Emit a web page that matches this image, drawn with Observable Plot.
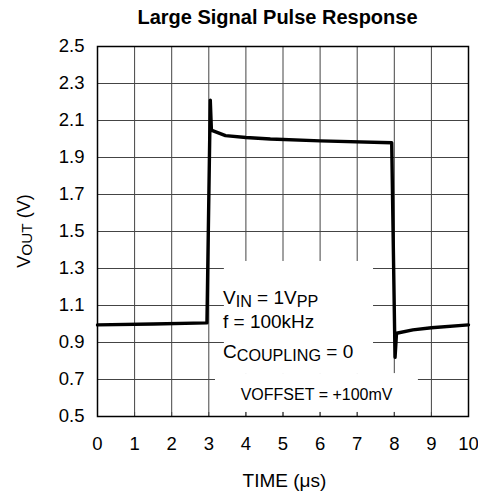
<!DOCTYPE html>
<html>
<head>
<meta charset="utf-8">
<script src="https://cdn.jsdelivr.net/npm/d3@7"></script>
<script src="https://cdn.jsdelivr.net/npm/@observablehq/plot@0.6"></script>
<style>
  body { margin: 0; background: #fff; }
  #wrap { width: 478px; height: 493px; font-family: "Liberation Sans", Arial, sans-serif; }
  #title { box-sizing: border-box; width: 478px; height: 36px; padding-top: 7px; padding-left: 77px;
           text-align: center; font-weight: bold; font-size: 20px; line-height: 20px; color: #000; }
  svg { display: block; }
</style>
</head>
<body>
<div id="wrap">
  <div id="title"></div>
  <div id="chart"></div>
</div>
<script>
// ---- chart text ----
const chartTitle = "Large Signal Pulse Response";
const xLabel = "TIME (\u03BCs)";
const yLabelMain = "V";
const yLabelSub = "OUT";
const yLabelRest = " (V)";

// ---- ticks ----
const xTicks = [0, 1, 2, 3, 4, 5, 6, 7, 8, 9, 10];
const xTickLabels = ["0", "1", "2", "3", "4", "5", "6", "7", "8", "9", "10"];
const yTicks = [0.5, 0.7, 0.9, 1.1, 1.3, 1.5, 1.7, 1.9, 2.1, 2.3, 2.5];
const yTickLabels = ["0.5", "0.7", "0.9", "1.1", "1.3", "1.5", "1.7", "1.9", "2.1", "2.3", "2.5"];

// ---- signal (time in µs, VOUT in V) ----
const timeUs = [0, 1.5, 2.95, 3.04, 3.07, 3.1, 3.45, 4.0, 4.66, 6.0, 7.93, 8.02, 8.06, 8.5, 9.0, 10.0];
const vout   = [0.995, 1.0, 1.006, 2.21, 2.05, 2.045, 2.018, 2.008, 2.0, 1.99, 1.98, 0.82, 0.95, 0.968, 0.98, 0.995];

// ---- annotation (white label boxes in data units) ----
const boxX1 = [3.42, 3.18];
const boxX2 = [7.44, 8.65];
const boxY1 = [0.732, 0.522];
const boxY2 = [1.338, 0.732];

const noteLines = [
  [["V", 0], ["IN", 1], [" = 1V", 0], ["PP", 1]],
  [["f = 100kHz", 0]],
  [["C", 0], ["COUPLING", 1], [" = 0", 0]]
];
const noteX = [3.396, 3.396, 3.396];
const noteY = [1.105, 0.976, 0.812];
const offsetNote = "VOFFSET = +100mV";
const offsetNoteX = 3.873;
const offsetNoteY = 0.586;

document.getElementById("title").textContent = chartTitle;

const W = 478, H = 457;
const mTop = 10, mBottom = 77, mLeft = 97, mRight = 10;
const frameH = H - mTop - mBottom;

const signal = timeUs.map((t, i) => ({t, v: vout[i]}));
const boxes = boxX1.map((x1, i) => ({x1, x2: boxX2[i], y1: boxY1[i], y2: boxY2[i]}));

const chart = Plot.plot({
  width: W,
  height: H,
  marginTop: mTop,
  marginBottom: mBottom,
  marginLeft: mLeft,
  marginRight: mRight,
  style: {fontFamily: "'Liberation Sans', Arial, sans-serif", fontSize: "18.5px", color: "#000", background: "#fff"},
  x: {domain: [0, 10]},
  y: {domain: [0.5, 2.5]},
  marks: [
    Plot.ruleX(xTicks, {x: d => d, stroke: "#444", strokeWidth: 1}),
    Plot.ruleY(yTicks, {y: d => d, stroke: "#444", strokeWidth: 1}),
    Plot.rect(boxes, {x1: "x1", x2: "x2", y1: "y1", y2: "y2", fill: "white"}),
    Plot.ruleX(xTicks, {x: d => d, insetTop: frameH - 4, stroke: "#444", strokeWidth: 1}),
    Plot.frame({stroke: "black", strokeWidth: 1.5}),
    Plot.line(signal, {x: "t", y: "v", stroke: "black", strokeWidth: 3.4}),
    Plot.axisX(xTicks, {anchor: "bottom", tickSize: 0, tickPadding: 20, label: null,
      tickFormat: d => xTickLabels[xTicks.indexOf(d)]}),
    Plot.axisY(yTicks, {anchor: "left", tickSize: 0, tickPadding: 13, label: null,
      tickFormat: d => yTickLabels[yTicks.indexOf(d)]})
  ]
});
document.getElementById("chart").appendChild(chart);

const xs = chart.scale("x"), ys = chart.scale("y");
const sx = d3.scaleLinear(xs.domain, xs.range);
const sy = d3.scaleLinear(ys.domain, ys.range);
const svg = d3.select(chart);
const ff = "'Liberation Sans', Arial, sans-serif";

// annotation lines with subscripts
noteLines.forEach((parts, i) => {
  const t = svg.append("text")
    .attr("x", sx(noteX[i])).attr("y", sy(noteY[i]))
    .attr("text-anchor", "start")
    .attr("font-family", ff).attr("font-size", 19).attr("fill", "#000");
  let shifted = false;
  parts.forEach(([s, sub]) => {
    const ts = t.append("tspan").text(s);
    if (sub && !shifted) { ts.attr("dy", 2.5).attr("font-size", "0.85em"); shifted = true; }
    else if (!sub && shifted) { ts.attr("dy", -2.5); shifted = false; }
    else if (sub) ts.attr("font-size", "0.85em");
  });
});
svg.append("text")
  .attr("x", sx(offsetNoteX)).attr("y", sy(offsetNoteY))
  .attr("text-anchor", "start")
  .attr("font-family", ff).attr("font-size", 16).attr("fill", "#000")
  .text(offsetNote);

// x axis label
const plotCx = (xs.range[0] + xs.range[1]) / 2;
svg.append("text")
  .attr("x", plotCx + 2).attr("y", ys.range[0] + 71)
  .attr("text-anchor", "middle")
  .attr("font-family", ff).attr("font-size", 19).attr("fill", "#000")
  .text(xLabel);

// y axis label (rotated, with subscript)
const plotCy = (ys.range[0] + ys.range[1]) / 2;
const yl = svg.append("text")
  .attr("transform", `translate(29.5,${plotCy}) rotate(-90)`)
  .attr("text-anchor", "middle")
  .attr("font-family", ff).attr("font-size", 18).attr("fill", "#000");
yl.append("tspan").text(yLabelMain);
yl.append("tspan").attr("dy", 2.5).attr("font-size", "0.85em").text(yLabelSub);
yl.append("tspan").attr("dy", -2.5).text(yLabelRest);
</script>
</body>
</html>
